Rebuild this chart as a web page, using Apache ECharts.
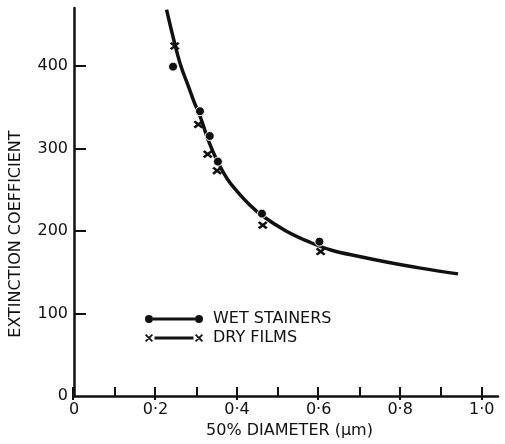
<!DOCTYPE html>
<html>
<head>
<meta charset="utf-8">
<script src="https://cdn.jsdelivr.net/npm/echarts@6/dist/echarts.min.js"></script>
<style>
  html, body { margin: 0; padding: 0; background: #fff; }
  #chart { width: 505px; height: 444px; }
</style>
</head>
<body>
<div id="chart"></div>
<script>
// wet stainers (dots)
var wetX = [0.243, 0.309, 0.333, 0.353, 0.461, 0.602]
var wetY = [399, 345, 315, 284, 221, 187]
// dry films (crosses)
var dryX = [0.247, 0.305, 0.328, 0.351, 0.463, 0.605]
var dryY = [424, 329, 293, 273, 207, 175]
// hand drawn curve
var curveX = [0.227, 0.245, 0.262, 0.28, 0.294, 0.31, 0.33, 0.352, 0.376, 0.40, 0.43, 0.46, 0.52, 0.58, 0.63, 0.70, 0.76, 0.85, 0.942]
var curveY = [468, 431, 400, 376, 357, 338, 309, 284, 263, 248, 232, 219, 200, 186, 177, 169, 163, 155, 148]

var xLabelVals = [0, 0.2, 0.4, 0.6, 0.8, 1.0]
var xMinorVals = [0.1, 0.3, 0.5, 0.7, 0.9]
var yTickVals = [100, 200, 300, 400]
var yLabelVals = [0, 100, 200, 300, 400]

var ink = '#111'
var font = 'DejaVu Sans'

const zip = (xs, ys) => xs.map((x, i) => [x, ys[i]])

const crossPath = 'path://M0,1.4 L5.6,7 L7,5.6 L1.4,0 Z M0,5.6 L1.4,7 L7,1.4 L5.6,0 Z'
const wetIcon = 'path://M0,4 A4,4 0 1,1 8,4 A4,4 0 1,1 0,4 Z M8,2.5 L50,2.5 L50,5.5 L8,5.5 Z M50,4 A4,4 0 1,1 58,4 A4,4 0 1,1 50,4 Z'
const dryIcon = 'path://M0,1.2 L6.8,8 L8,6.8 L1.2,0 Z M0,6.8 L1.2,8 L8,1.2 L6.8,0 Z M9.5,2.6 L48.5,2.6 L48.5,5.4 L9.5,5.4 Z M50,1.2 L56.8,8 L58,6.8 L51.2,0 Z M50,6.8 L51.2,8 L58,1.2 L56.8,0 Z'

const fmt = (v) => v === 0 ? '0' : v.toFixed(1).replace('.', '\u00b7')

var chart = echarts.init(document.getElementById('chart'), null, {renderer: 'canvas'})

var option = {
    animation: false,
    backgroundColor: '#fff',
    textStyle: { fontFamily: font, color: ink },
    grid: [
        { left: 73, right: 7, top: 8, bottom: 44 },
        { left: 73, right: 7, top: 8, bottom: 44 }
    ],
    legend: {
        orient: 'vertical',
        left: 145,
        top: 311,
        padding: 0,
        itemGap: 3,
        itemWidth: 58,
        itemHeight: 8,
        selectedMode: false,
        itemStyle: { borderWidth: 0, color: ink },
        textStyle: { fontFamily: font, fontSize: 16, color: ink, lineHeight: 16, padding: [0, 0, 0, 5] },
        data: [
            { name: 'WET STAINERS', icon: wetIcon },
            { name: 'DRY FILMS', icon: dryIcon }
        ]
    },
    xAxis: [
        {
            type: 'value',
            gridIndex: 0,
            min: 0,
            max: 1.04,
            interval: 0.1,
            name: '50% DIAMETER (\u03bcm)',
            nameLocation: 'middle',
            nameGap: 25,
            nameTextStyle: { fontFamily: font, fontSize: 16, color: ink, padding: [0, 0, 0, 7] },
            axisLine: { show: true, lineStyle: { color: ink, width: 2.5 } },
            axisTick: { show: true, inside: true, length: 9, customValues: xMinorVals, lineStyle: { color: ink, width: 2 } },
            axisLabel: { customValues: xLabelVals, formatter: fmt, margin: 6, fontFamily: font, fontSize: 16, color: ink },
            splitLine: { show: false }
        },
        {
            type: 'value',
            gridIndex: 1,
            min: 0,
            max: 1.04,
            interval: 0.1,
            axisLine: { show: false },
            axisTick: { show: true, inside: true, length: 13, customValues: xLabelVals, lineStyle: { color: ink, width: 2 } },
            axisLabel: { show: false },
            splitLine: { show: false }
        }
    ],
    yAxis: [
        {
            type: 'value',
            gridIndex: 0,
            min: 0,
            max: 470,
            interval: 100,
            name: 'EXTINCTION COEFFICIENT',
            nameLocation: 'middle',
            nameGap: 50,
            nameRotate: 90,
            nameTextStyle: { fontFamily: font, fontSize: 16, color: ink, padding: [0, 64, 0, 0] },
            axisLine: { show: true, lineStyle: { color: ink, width: 2.5 } },
            axisTick: { show: true, inside: true, length: 12, customValues: yTickVals, lineStyle: { color: ink, width: 2 } },
            axisLabel: { customValues: yLabelVals, margin: 6, fontFamily: font, fontSize: 16, color: ink },
            splitLine: { show: false }
        },
        {
            type: 'value',
            gridIndex: 1,
            min: 0,
            max: 470,
            show: false
        }
    ],
    series: [
        {
            type: 'line',
            name: 'curve',
            xAxisIndex: 0,
            yAxisIndex: 0,
            data: zip(curveX, curveY),
            smooth: 0.4,
            symbol: 'none',
            lineStyle: { color: ink, width: 3.5 },
            z: 2
        },
        {
            type: 'scatter',
            name: 'WET STAINERS',
            xAxisIndex: 0,
            yAxisIndex: 0,
            data: zip(wetX, wetY),
            symbol: 'circle',
            symbolSize: 9,
            itemStyle: { color: ink, borderColor: '#fff', borderWidth: 1, opacity: 1 },
            z: 3
        },
        {
            type: 'scatter',
            name: 'DRY FILMS',
            xAxisIndex: 0,
            yAxisIndex: 0,
            data: zip(dryX, dryY),
            symbol: crossPath,
            symbolSize: [10, 8],
            itemStyle: { color: ink, borderWidth: 0, opacity: 1 },
            z: 3
        }
    ]
}

chart.setOption(option)
</script>
</body>
</html>
